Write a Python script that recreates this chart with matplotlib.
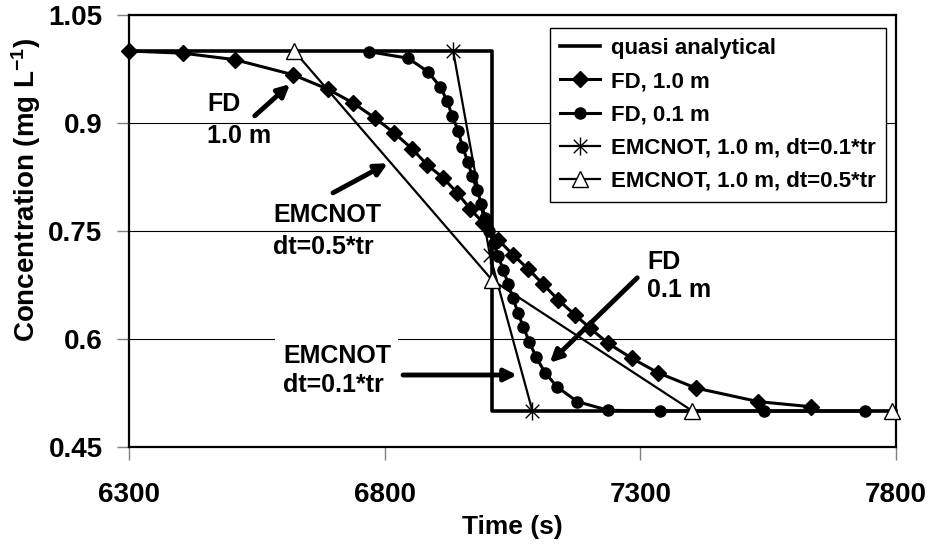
import matplotlib
matplotlib.use('Agg')
from matplotlib import pyplot as plt
from matplotlib.path import Path

plt.rcParams['font.family'] = 'Liberation Sans'
plt.rcParams['font.weight'] = 'bold'
plt.rcParams['mathtext.fontset'] = 'custom'
plt.rcParams['mathtext.rm'] = 'Liberation Sans:bold'
plt.rcParams['mathtext.it'] = 'Liberation Sans:bold'
plt.rcParams['mathtext.bf'] = 'Liberation Sans:bold'

# Data
quasi_t = [6300, 7010, 7010, 7800]
quasi_c = [1.0, 1.0, 0.5, 0.5]

fd1_t = [6300, 6406, 6507, 6621, 6689, 6738, 6781, 6819, 6854, 6883, 6914, 6942,
         6967, 6993, 7022, 7051, 7081, 7110, 7140, 7173, 7202, 7237, 7284, 7335,
         7408, 7531, 7633]
fd1_c = [1.0, 0.997, 0.988, 0.967, 0.947, 0.928, 0.907, 0.886, 0.864, 0.842, 0.824, 0.803,
         0.781, 0.761, 0.738, 0.717, 0.697, 0.676, 0.654, 0.633, 0.615, 0.594, 0.573, 0.553,
         0.532, 0.513, 0.506]

fd01_t = [6770, 6846, 6885, 6909, 6922, 6932, 6944, 6952, 6963, 6971, 6981, 6989,
          6997, 7004, 7014, 7022, 7032, 7042, 7051, 7061, 7071, 7083, 7096, 7114,
          7138, 7177, 7237, 7339, 7541, 7740]
fd01_c = [0.999, 0.990, 0.971, 0.950, 0.931, 0.910, 0.889, 0.867, 0.846, 0.826, 0.807, 0.787,
          0.768, 0.750, 0.733, 0.715, 0.696, 0.676, 0.657, 0.636, 0.617, 0.596, 0.575, 0.553,
          0.533, 0.513, 0.501, 0.500, 0.500, 0.500]

emc01_t = [6934, 7006, 7089]
emc01_c = [1.0, 0.716, 0.5]

emc05_t = [6623, 7010, 7402, 7793]
emc05_c = [1.0, 0.682, 0.5, 0.5]

x_ticks = [6300, 6800, 7300, 7800]
y_ticks = [0.45, 0.6, 0.75, 0.9, 1.05]
y_tick_labels = ['0.45', '0.6', '0.75', '0.9', '1.05']

# Excel style asterisk: X plus a vertical bar
star = Path([(0, -1), (0, 1), (-0.75, -0.75), (0.75, 0.75), (-0.75, 0.75), (0.75, -0.75)],
            [Path.MOVETO, Path.LINETO, Path.MOVETO, Path.LINETO, Path.MOVETO, Path.LINETO])

fig = plt.figure(figsize=(9.3, 5.44), dpi=100)
ax = fig.add_axes([0.1387, 0.1783, 0.8247, 0.7941])

ax.plot(quasi_t, quasi_c, color='black', lw=2.6, label='quasi analytical', zorder=3,
        clip_on=False)
ax.plot(fd1_t, fd1_c, color='black', lw=2.2, marker='D', ms=8, label='FD, 1.0 m',
        zorder=4, clip_on=False)
ax.plot(fd01_t, fd01_c, color='black', lw=2.2, marker='o', ms=8, label='FD, 0.1 m',
        zorder=5, clip_on=False)
ax.plot(emc01_t, emc01_c, color='black', lw=1.6, marker=star, ms=13, mew=1,
        mfc='none', label='EMCNOT, 1.0 m, dt=0.1*tr', zorder=6, clip_on=False)
ax.plot(emc05_t, emc05_c, color='black', lw=1.6, marker='^', ms=11, mew=1,
        mfc='white', label='EMCNOT, 1.0 m, dt=0.5*tr', zorder=7, clip_on=False)

ax.set_xlim(6300, 7800)
ax.set_ylim(0.45, 1.05)
ax.set_xticks(x_ticks)
ax.set_yticks(y_ticks)
ax.set_yticklabels(y_tick_labels)
ax.tick_params(direction='out', length=9, width=1, color='#808080', labelsize=20)
ax.tick_params(axis='x', pad=16)
ax.tick_params(axis='y', pad=10)
for s in ax.spines.values():
    s.set_linewidth(1.6)
    s.set_color('black')

ax.yaxis.grid(True, color='black', lw=0.8)
ax.set_axisbelow(True)

ax.set_xlabel('Time (s)', fontsize=19, fontweight='bold')
ax.set_ylabel('Concentration (mg L$^{-1}$)', fontsize=20, fontweight='bold')
ax.xaxis.set_label_coords(0.5, -0.157)
ax.yaxis.set_label_coords(-0.112, 0.595)

leg = ax.legend(loc='upper left', bbox_to_anchor=(0.549, 0.97),
                prop={'size': 16, 'weight': 'bold'},
                frameon=True, fancybox=False, framealpha=1, edgecolor='black',
                handlelength=1.8, handletextpad=0.5, labelspacing=0.55,
                borderpad=0.45, borderaxespad=0)
leg.get_frame().set_linewidth(1)
leg.set_zorder(10)

# Annotations
arrow = dict(arrowstyle='-|>', lw=3.5, color='black', mutation_scale=18,
             shrinkA=0, shrinkB=0)
ax.annotate('', xy=(6615, 0.954), xytext=(6546, 0.910), arrowprops=arrow, zorder=8)
ax.annotate('', xy=(6806, 0.844), xytext=(6699, 0.803), arrowprops=arrow, zorder=8)
ax.annotate('', xy=(7059, 0.55), xytext=(6836, 0.55), arrowprops=arrow, zorder=8)
ax.annotate('', xy=(7123, 0.567), xytext=(7294, 0.685), arrowprops=arrow, zorder=8)

ax.text(6453, 0.904, 'FD\n1.0 m', fontsize=18, fontweight='bold', ha='left',
        va='center', linespacing=1.45)
ax.text(6582, 0.75, 'EMCNOT\ndt=0.5*tr', fontsize=18, fontweight='bold', ha='left',
        va='center', linespacing=1.4)
ax.text(6601, 0.556, 'EMCNOT\ndt=0.1*tr', fontsize=18, fontweight='bold', ha='left',
        va='center', linespacing=1.25, zorder=2,
        bbox=dict(boxstyle='square,pad=0.3', fc='white', ec='none'))
ax.text(7313, 0.6875, 'FD\n0.1 m', fontsize=18, fontweight='bold', ha='left',
        va='center', linespacing=1.25)

fig.savefig('out.png', dpi=100)
